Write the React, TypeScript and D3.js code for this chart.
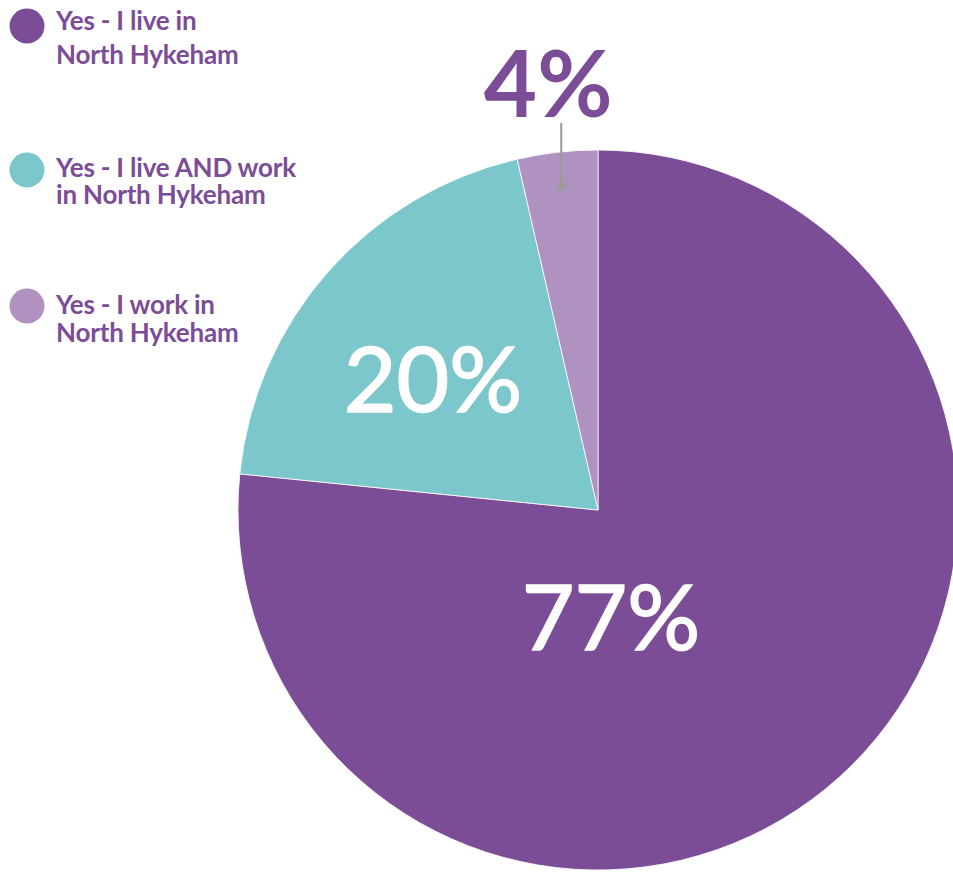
import React from "react";
import * as d3 from "d3";

const categories = [
  ["Yes - I live in", "North Hykeham"],
  ["Yes - I live AND work", "in North Hykeham"],
  ["Yes - I work in", "North Hykeham"],
];
const values = [76.6, 19.8, 3.6];
const valueLabels = ["77%", "20%", "4%"];
const colors = ["#7C4D97", "#7BC7CB", "#AF92C0"];

const W = 953;
const H = 872;
const cx = 598;
const cy = 510;
const R = 360;
const textColor = "#7C4D97";
const font = "Lato, 'Open Sans', sans-serif";

export default function App() {
  const pie = d3.pie<number>().sort(null).value((d) => d)(values);
  const arc = d3.arc<d3.PieArcDatum<number>>().innerRadius(0).outerRadius(R);

  const legendY = [26, 170, 306];
  const legendBase = [30, 177, 314];
  const legendLine2 = [34, 27, 28];

  const cmid4 = (pie[2].startAngle + pie[2].endAngle) / 2;
  const dotR = R * 0.905;
  const dot = [Math.sin(cmid4) * dotR, -Math.cos(cmid4) * dotR];

  return (
    <svg
      width={W}
      height={H}
      style={{ position: "absolute", left: 0, top: 0, background: "#fff" }}
    >
      <g transform={`translate(${cx},${cy})`}>
        {pie.map((p, i) => (
          <path key={i} d={arc(p) || ""} fill={colors[i]} stroke="#fff" strokeWidth={0.8} />
        ))}
        <text
          x={13}
          y={140}
          textAnchor="middle"
          fill="#fff"
          stroke="#fff"
          strokeWidth={1.6}
          fontFamily={font}
          fontSize={91}
          fontWeight={400}
        >
          {valueLabels[0]}
        </text>
        <text
          x={-165}
          y={-98}
          textAnchor="middle"
          fill="#fff"
          stroke="#fff"
          strokeWidth={1.6}
          fontFamily={font}
          fontSize={91}
          fontWeight={400}
        >
          {valueLabels[1]}
        </text>
        <line x1={dot[0]} x2={dot[0]} y1={dot[1]} y2={-387} stroke="#9A9A9A" strokeWidth={2} />
        <circle cx={dot[0]} cy={dot[1]} r={4.5} fill="#9A9A9A" />
        <text
          x={dot[0] - 13}
          y={-393}
          textAnchor="middle"
          fill={textColor}
          fontFamily={font}
          fontSize={92}
          fontWeight={700}
        >
          {valueLabels[2]}
        </text>
      </g>
      {categories.map((c, i) => (
        <g key={i}>
          <circle cx={27} cy={legendY[i]} r={17.5} fill={colors[i]} />
          <text
            x={56}
            y={legendBase[i]}
            fill={textColor}
            fontFamily={font}
            fontSize={26}
            fontWeight={700}
            letterSpacing={-0.2}
          >
            <tspan x={56}>{c[0]}</tspan>
            <tspan x={56} dy={legendLine2[i]}>{c[1]}</tspan>
          </text>
        </g>
      ))}
    </svg>
  );
}
